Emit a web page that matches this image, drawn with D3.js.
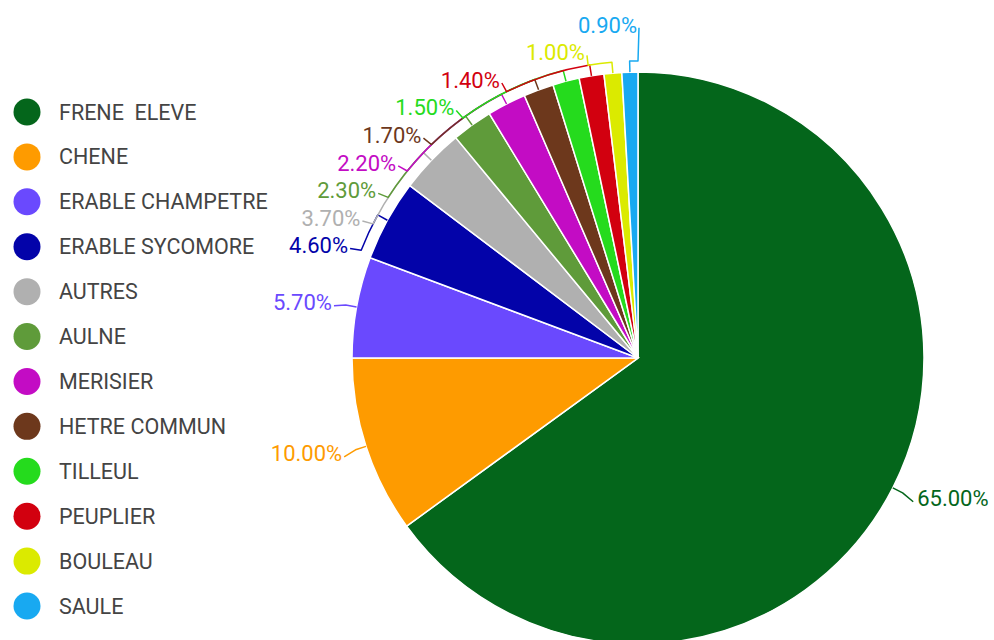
<!DOCTYPE html>
<html>
<head>
<meta charset="utf-8">
<script src="https://cdn.jsdelivr.net/npm/d3@7"></script>
<style>
  html, body { margin: 0; padding: 0; background: #fff; }
  svg { display: block; font-family: Roboto, "Noto Sans", sans-serif; }
</style>
</head>
<body>
<svg id="chart"></svg>
<script>
// species names, in slice order (clockwise from 12 o'clock)
const categories = [
    "FRENE  ELEVE", "CHENE", "ERABLE CHAMPETRE", "ERABLE SYCOMORE", "AUTRES", "AULNE",
    "MERISIER", "HETRE COMMUN", "TILLEUL", "PEUPLIER", "BOULEAU", "SAULE"
];
// share of each species, percent
const shares = [65.0, 10.0, 5.7, 4.6, 3.7, 2.3, 2.2, 1.7, 1.5, 1.4, 1.0, 0.9];
const colors = [
    "#04661b", "#fe9b00", "#6a49fe", "#0303a9", "#b0b0b0", "#5f9b3a",
    "#c30cc4", "#6d381c", "#25db1d", "#d2000f", "#dbea00", "#18a9f1"
];

const dimensions = { width: 994, height: 640 };
const cx = 638, cy = 358, radius = 286;
const tickR = radius + 11;     // radius of the connector arc
const labelR = 310;            // radius where labels sit
const lineH = 27.6;            // vertical space taken by one label

const svg = d3.select("#chart")
    .attr("width", dimensions.width)
    .attr("height", dimensions.height);

// ---- legend
const legendY = d3.scalePoint()
    .domain(categories)
    .range([112, 606]);

const legend = svg.append("g");
categories.forEach((name, i) => {
    legend.append("circle")
        .attr("cx", 27)
        .attr("cy", legendY(name))
        .attr("r", 13.5)
        .attr("fill", colors[i]);
    legend.append("text")
        .attr("x", 59)
        .attr("y", legendY(name))
        .attr("dy", "0.35em")
        .style("font-size", "21.5px")
        .style("white-space", "pre")
        .attr("fill", "#444")
        .text(name);
});

// ---- pie
const pie = d3.pie().sort(null).value(d => d);
const arcs = pie(shares);
const arc = d3.arc().innerRadius(0).outerRadius(radius);

const g = svg.append("g").attr("transform", `translate(${cx},${cy})`);

g.selectAll("path.slice")
    .data(arcs)
    .enter()
    .append("path")
    .attr("class", "slice")
    .attr("d", arc)
    .attr("fill", (d, i) => colors[i])
    .attr("stroke", "#fff")
    .attr("stroke-width", 1.5);

// ---- labels: spread vertically on each side so they don't overlap
const labels = arcs.map((d, i) => {
    const mid = (d.startAngle + d.endAngle) / 2;
    return {
        i: i,
        mid: mid,
        left: mid > Math.PI,
        target: -labelR * Math.cos(mid)
    };
});

function distribute(items, minY, maxY) {
    let groups = items.slice()
        .sort((a, b) => a.target - b.target)
        .map(it => ({ items: [it] }));
    let merged = true;
    while (merged) {
        merged = false;
        groups.forEach(gr => {
            const size = gr.items.length * lineH;
            const mean = d3.mean(gr.items, it => it.target);
            gr.pos = Math.max(minY, Math.min(maxY - size, mean - size / 2));
            gr.size = size;
        });
        for (let k = 0; k < groups.length - 1; k++) {
            if (groups[k].pos + groups[k].size > groups[k + 1].pos) {
                groups[k].items = groups[k].items.concat(groups[k + 1].items);
                groups.splice(k + 1, 1);
                merged = true;
                break;
            }
        }
    }
    groups.forEach(gr => {
        gr.items.forEach((it, j) => {
            it.y = gr.pos + j * lineH + lineH / 2;
        });
    });
}

const minLabelY = 11 - cy, maxLabelY = dimensions.height - cy;
distribute(labels.filter(l => l.left), minLabelY, maxLabelY);
distribute(labels.filter(l => !l.left), minLabelY, maxLabelY);

labels.forEach(l => {
    const dy = Math.abs(l.y) < labelR ? Math.sqrt(labelR * labelR - l.y * l.y) : 0;
    l.x = l.left ? -dy : dy;
    let a = Math.atan2(l.x, -l.y);
    if (a < 0) a += 2 * Math.PI;
    if (l.left && a < Math.PI) a += 2 * Math.PI;
    l.angle = a;
});

// connector: out from the slice, along an arc to the label's angle, then to the label
labels.forEach(l => {
    const p = d3.path();
    const m = l.mid - Math.PI / 2;
    const a = l.angle - Math.PI / 2;
    p.moveTo(radius * Math.cos(m), radius * Math.sin(m));
    p.lineTo(tickR * Math.cos(m), tickR * Math.sin(m));
    p.arc(0, 0, tickR, m, a, a < m);
    p.lineTo(l.x + (l.left ? 1 : -1), l.y + 3);
    g.append("path")
        .attr("d", p.toString())
        .attr("fill", "none")
        .attr("stroke", colors[l.i])
        .attr("stroke-width", 1.5)
        .attr("stroke-linejoin", "round");
});

g.selectAll("text.pct")
    .data(labels)
    .enter()
    .append("text")
    .attr("class", "pct")
    .attr("x", l => l.x + (l.left ? -1 : 3))
    .attr("y", l => l.y)
    .attr("dy", "0.35em")
    .attr("text-anchor", l => l.left ? "end" : "start")
    .style("font-size", "22px")
    .attr("fill", l => colors[l.i])
    .text(l => d3.format(".2f")(shares[l.i]) + "%");
</script>
</body>
</html>
